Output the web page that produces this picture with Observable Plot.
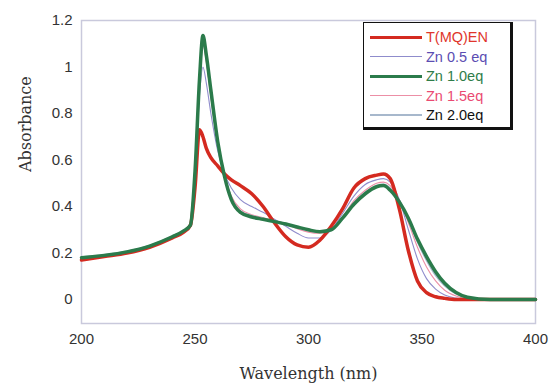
<!DOCTYPE html>
<html>
<head>
<meta charset="utf-8">
<script src="https://cdn.jsdelivr.net/npm/d3@7"></script>
<script src="https://cdn.jsdelivr.net/npm/@observablehq/plot@0.6"></script>
<style>
  html, body { margin: 0; padding: 0; background: #fff; }
  #wrap { position: relative; width: 553px; height: 387px; }
  #legend { position: absolute; left: 363px; top: 22px; width: 150px; height: 108px;
    border: 1.5px solid #111; border-right-width: 3px; border-bottom-width: 3px; background: #fff;
    font-family: "Liberation Sans", Arial, sans-serif; font-size: 14.5px; box-sizing: border-box; }
  .row { position: absolute; left: 6px; height: 18px; display: flex; align-items: center; }
  .sw { width: 52px; margin-right: 4px; }
</style>
</head>
<body>
<div id="wrap"><div id="legend"></div></div>
<script>
const wavelengths = [200, 210, 220, 230, 240, 245, 248, 250, 252, 253.5, 255, 257, 260, 263, 266, 270, 275, 280, 285, 290, 295, 300, 305, 310, 315, 320, 325, 330, 333, 336, 340, 344, 348, 352, 356, 360, 365, 370, 380, 400];

const seriesNames = ["T(MQ)EN", "Zn 0.5 eq", "Zn 1.0eq", "Zn 1.5eq", "Zn 2.0eq"];

const tmqen = [0.17, 0.185, 0.20, 0.225, 0.265, 0.29, 0.32, 0.48, 0.73, 0.70, 0.65, 0.61, 0.575, 0.54, 0.515, 0.49, 0.455, 0.40, 0.33, 0.27, 0.235, 0.225, 0.255, 0.315, 0.39, 0.48, 0.52, 0.535, 0.54, 0.52, 0.39, 0.21, 0.08, 0.03, 0.012, 0.005, 0, 0, 0, 0];
const zn05 = [0.175, 0.188, 0.202, 0.228, 0.268, 0.292, 0.32, 0.52, 0.88, 1.0, 0.93, 0.80, 0.64, 0.54, 0.48, 0.43, 0.40, 0.375, 0.345, 0.315, 0.285, 0.265, 0.265, 0.30, 0.37, 0.445, 0.495, 0.515, 0.52, 0.505, 0.43, 0.30, 0.175, 0.09, 0.045, 0.02, 0.006, 0, 0, 0];
const zn10 = [0.18, 0.19, 0.205, 0.23, 0.27, 0.295, 0.32, 0.55, 0.95, 1.135, 1.05, 0.90, 0.68, 0.53, 0.43, 0.375, 0.355, 0.345, 0.335, 0.325, 0.312, 0.30, 0.292, 0.30, 0.35, 0.41, 0.455, 0.485, 0.49, 0.47, 0.42, 0.35, 0.26, 0.185, 0.12, 0.07, 0.03, 0.01, 0, 0];
const zn15 = [0.178, 0.189, 0.204, 0.229, 0.269, 0.294, 0.32, 0.54, 0.93, 1.10, 1.02, 0.87, 0.67, 0.535, 0.445, 0.39, 0.365, 0.352, 0.34, 0.325, 0.305, 0.29, 0.285, 0.30, 0.355, 0.425, 0.47, 0.50, 0.505, 0.49, 0.425, 0.33, 0.225, 0.14, 0.08, 0.04, 0.015, 0.004, 0, 0];
const zn20 = [0.182, 0.192, 0.207, 0.232, 0.272, 0.296, 0.32, 0.55, 0.94, 1.12, 1.04, 0.89, 0.675, 0.53, 0.435, 0.38, 0.36, 0.348, 0.337, 0.326, 0.31, 0.297, 0.29, 0.30, 0.352, 0.415, 0.46, 0.49, 0.495, 0.478, 0.425, 0.345, 0.25, 0.17, 0.105, 0.06, 0.025, 0.008, 0, 0];

const yTicks = [0, 0.2, 0.4, 0.6, 0.8, 1, 1.2];
const xTicks = [200, 250, 300, 350, 400];

const allSeries = [tmqen, zn05, zn10, zn15, zn20];
const lineColors = ["#d42a20", "#8f8ccc", "#2b7b4b", "#ec8fa6", "#a7b8cc"];
const lineWidths = [3.5, 1.1, 3.5, 1.1, 2];
const textColors = ["#e0362c", "#5b4db2", "#2f7d49", "#ea4a72", "#111111"];

const rows = [];
seriesNames.forEach((name, i) => {
  wavelengths.forEach((w, j) => rows.push({series: name, wl: w, a: allSeries[i][j]}));
});

const drawOrder = [3, 1, 4, 0, 2];
const lineMarks = drawOrder.map(i => Plot.line(rows.filter(r => r.series === seriesNames[i]), {
  x: "wl", y: "a", stroke: lineColors[i], strokeWidth: lineWidths[i], curve: "monotone-x"
}));

const chart = Plot.plot({
  width: 553,
  height: 387,
  marginLeft: 81,
  marginRight: 18,
  marginTop: 20,
  marginBottom: 64,
  style: {fontFamily: "'Liberation Sans', Arial, sans-serif", fontSize: "15px", color: "#333", background: "#fff"},
  x: {domain: [200, 400], ticks: xTicks, tickSize: 0, tickPadding: 10, label: null},
  y: {domain: [-0.103, 1.2], ticks: yTicks, tickSize: 0, tickPadding: 9, label: null,
      tickFormat: d => String(+d.toFixed(1))},
  marks: [
    Plot.frame({stroke: "#c9c9dc", strokeWidth: 1.5}),
    ...lineMarks,
    Plot.text(["Absorbance"], {frameAnchor: "left", dx: -56, rotate: -90, text: d => d,
      fontFamily: "'DejaVu Serif', 'Liberation Serif', serif", fontSize: 16, fill: "#333"}),
    Plot.text(["Wavelength (nm)"], {frameAnchor: "bottom", dy: 55, text: d => d,
      fontFamily: "'DejaVu Serif', 'Liberation Serif', serif", fontSize: 16, fill: "#333"})
  ]
});
document.getElementById("wrap").prepend(chart);

const legend = document.getElementById("legend");
seriesNames.forEach((name, i) => {
  const row = document.createElement("div");
  row.className = "row";
  row.style.top = (5 + i * 19.5) + "px";
  const sw = document.createElement("div");
  sw.className = "sw";
  sw.style.borderTop = lineWidths[i] + "px solid " + lineColors[i];
  const t = document.createElement("span");
  t.textContent = name;
  t.style.color = textColors[i];
  row.appendChild(sw); row.appendChild(t);
  legend.appendChild(row);
});
</script>
</body>
</html>
